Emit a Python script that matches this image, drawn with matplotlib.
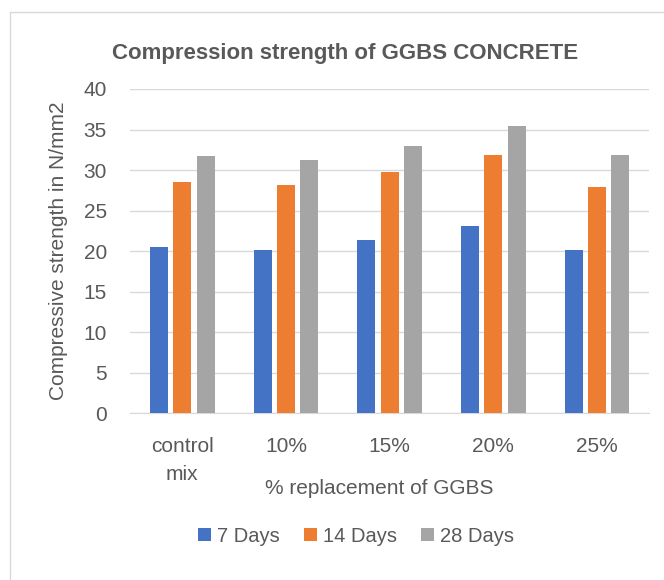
import numpy as np
import matplotlib
matplotlib.use("Agg")
import matplotlib.pyplot as plt
from matplotlib.patches import Rectangle

plt.rcParams['font.family'] = ['Liberation Sans', 'DejaVu Sans']

categories = ['control\nmix', '10%', '15%', '20%', '25%']
days7 = [20.5, 20.2, 21.4, 23.05, 20.1]
days14 = [28.55, 28.15, 29.7, 31.85, 27.95]
days28 = [31.75, 31.25, 33.0, 35.45, 31.85]
series_names = ['7 Days', '14 Days', '28 Days']
colors = ['#4472C4', '#ED7D31', '#A5A5A5']
txt = '#595959'

fig = plt.figure(figsize=(6.64, 5.80), dpi=100)
ax = fig.add_axes([0.1965, 0.2874, 0.7807, 0.5592])

# chart border (only left/top visible in the reference)
fig.patches.append(Rectangle((10 / 664, -0.1), 1.2, 1 - 12 / 580 + 0.1,
                             transform=fig.transFigure, fill=False,
                             edgecolor='#D9D9D9', linewidth=1.0))

x = np.arange(len(categories))
w = 0.174
step = 0.225
for i, (vals, name) in enumerate(zip([days7, days14, days28], series_names)):
    ax.bar(x + (i - 1) * step, vals, w, color=colors[i], label=name, zorder=3)

ax.set_xlim(-0.5, len(categories) - 0.5)
ax.set_ylim(0, 40)
ax.set_yticks(range(0, 41, 5))
ax.yaxis.grid(True, color='#D9D9D9', linewidth=1.0, zorder=0)
for s in ['top', 'right', 'left']:
    ax.spines[s].set_visible(False)
ax.spines['bottom'].set_color('#D9D9D9')
ax.tick_params(axis='both', length=0, colors=txt, labelsize=15)
ax.tick_params(axis='y', pad=17)
ax.tick_params(axis='x', pad=17)
ax.set_xticks(x)
ax.set_xticklabels(categories, linespacing=1.6)

fig.text(379 / 664, 1 - 489 / 580, '% replacement of GGBS', color=txt,
         fontsize=15, ha='center', va='center')
fig.text(58 / 664, 1 - 251 / 580, 'Compressive strength in N/mm2', color=txt,
         fontsize=15, ha='center', va='center', rotation=90)
fig.text(345 / 664, 1 - 53 / 580, 'Compression strength of GGBS CONCRETE',
         ha='center', va='center', fontsize=16, fontweight='bold', color=txt)

ax.legend(loc='center', bbox_to_anchor=(356 / 664, 1 - 536 / 580),
          bbox_transform=fig.transFigure, ncol=3, frameon=False,
          fontsize=14.5, labelcolor=txt, handlelength=0.65, handleheight=0.65,
          handletextpad=0.3, columnspacing=1.2, borderpad=0)

fig.savefig('out.png', dpi=100)
